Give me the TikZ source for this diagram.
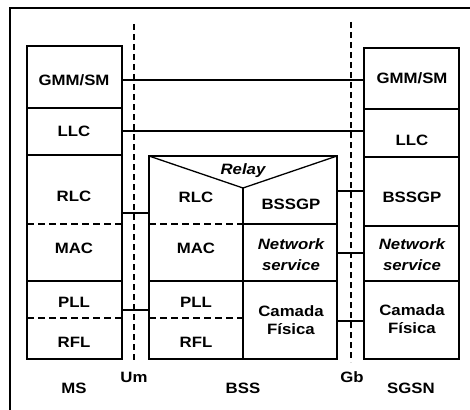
\documentclass[tikz,border=0pt]{standalone}
\usepackage{fontspec}
\newfontfamily\lblfont{Liberation Sans}[FakeStretch=1.12]
\tikzset{
  box/.style={draw, line width=1.3pt},
  sep/.style={line width=1.3pt},
  dsep/.style={line width=1.3pt, dash pattern=on 7pt off 4pt},
  iface/.style={line width=1.2pt, dash pattern=on 6pt off 4pt},
  link/.style={line width=1.3pt},
  lbl/.style={anchor=base, inner sep=0pt, font=\lblfont\fontsize{15}{17}\selectfont\bfseries},
  ilbl/.style={lbl, font=\lblfont\fontsize{15}{17}\selectfont\bfseries\itshape},
}
\begin{document}
\begin{tikzpicture}[x=1pt,y=-1pt]
\useasboundingbox (0,0) rectangle (470,409);
% frame
\draw[line width=2pt] (10,412) -- (10,8) -- (473,8);
% interface lines
\draw[iface] (134,24) -- (134,362);
\draw[iface] (351,22) -- (351,362);
% MS stack
\draw[box] (27,46) rectangle (122,359);
\draw[sep] (27,108) -- (122,108);
\draw[sep] (27,155) -- (122,155);
\draw[sep] (27,281) -- (122,281);
\draw[dsep] (27,224) -- (122,224);
\draw[dsep] (27,318) -- (122,318);
% SGSN stack
\draw[box] (364,48) rectangle (459,359);
\draw[sep] (364,109) -- (459,109);
\draw[sep] (364,157) -- (459,157);
\draw[sep] (364,226) -- (459,226);
\draw[sep] (364,281) -- (459,281);
% BSS stack
\draw[box] (149,156) rectangle (337,359);
\draw[sep] (149,156) -- (243,188) -- (337,156);
\draw[sep] (243,188) -- (243,359);
\draw[dsep] (149,224) -- (243,224);
\draw[sep] (149,281) -- (243,281);
\draw[dsep] (149,318) -- (243,318);
\draw[sep] (243,224) -- (337,224);
\draw[sep] (243,281) -- (337,281);
% connector end points
\coordinate (msgmm) at (122,80);   \coordinate (sggmm) at (364,80);
\coordinate (msllc) at (122,131);  \coordinate (sgllc) at (364,131);
\coordinate (msrlc) at (122,213);  \coordinate (bsrlc) at (149,213);
\coordinate (mspll) at (122,310);  \coordinate (bspll) at (149,310);
\coordinate (bsbss) at (337,191);  \coordinate (sgbss) at (364,191);
\coordinate (bsns)  at (337,253);  \coordinate (sgns)  at (364,253);
\coordinate (bsphy) at (337,321);  \coordinate (sgphy) at (364,321);
\draw[link] (msgmm) -- (sggmm);
\draw[link] (msllc) -- (sgllc);
\draw[link] (msrlc) -- (bsrlc);
\draw[link] (mspll) -- (bspll);
\draw[link] (bsbss) -- (sgbss);
\draw[link] (bsns) -- (sgns);
\draw[link] (bsphy) -- (sgphy);
% MS labels
\node[lbl] (ms1) at (74,85) {GMM/SM};
\node[lbl] (ms2) at (74,136) {LLC};
\node[lbl] (ms3) at (74,201) {RLC};
\node[lbl] (ms4) at (74,253) {MAC};
\node[lbl] (ms5) at (74,307) {PLL};
\node[lbl] (ms6) at (74,347) {RFL};
% BSS labels
\node[ilbl] (relay) at (243,174) {Relay};
\node[lbl] (b1) at (196,202) {RLC};
\node[lbl] (b2) at (196,253) {MAC};
\node[lbl] (b3) at (196,307) {PLL};
\node[lbl] (b4) at (196,347) {RFL};
\node[lbl] (b5) at (291,209) {BSSGP};
\node[ilbl] (b6) at (291,249) {Network};
\node[ilbl] (b7) at (291,270) {service};
\node[lbl] (b8) at (291,316) {Camada};
\node[lbl] (b9) at (291,334) {Física};
% SGSN labels
\node[lbl] (s1) at (412,84) {GMM/SM};
\node[lbl] (s2) at (412,145) {LLC};
\node[lbl] (s3) at (412,202) {BSSGP};
\node[ilbl] (s4) at (412,249) {Network};
\node[ilbl] (s5) at (412,270) {service};
\node[lbl] (s6) at (412,315) {Camada};
\node[lbl] (s7) at (412,333) {Física};
% bottom labels
\node[lbl] (lms) at (74,393) {MS};
\node[lbl] (lum) at (134,382) {Um};
\node[lbl] (lbss) at (243,393) {BSS};
\node[lbl] (lgb) at (352,382) {Gb};
\node[lbl] (lsgsn) at (411,393) {SGSN};
\end{tikzpicture}
\end{document}
